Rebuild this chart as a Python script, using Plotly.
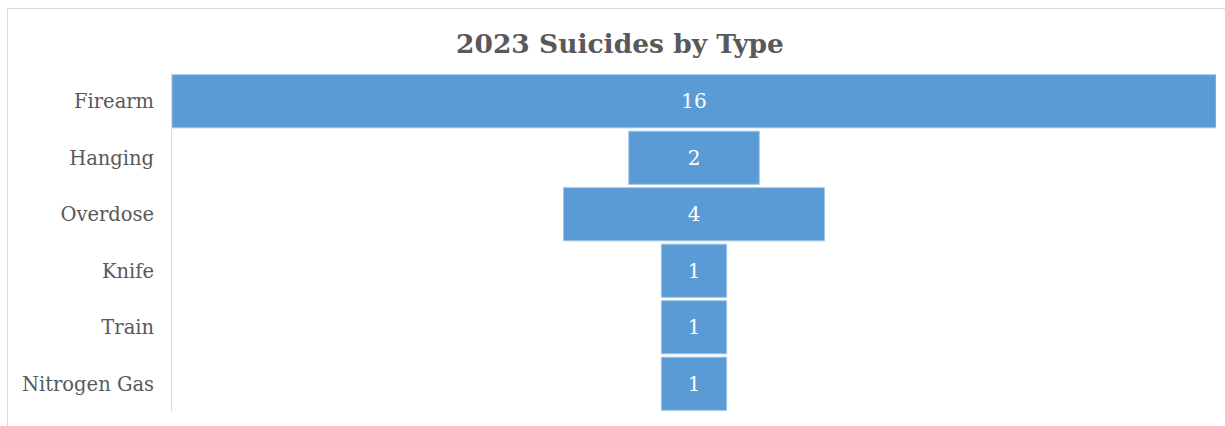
import plotly.graph_objects as go

categories = ["Firearm", "Hanging", "Overdose", "Knife", "Train", "Nitrogen Gas"]
values = [16, 2, 4, 1, 1, 1]
title_text = "2023 Suicides by Type"

L, R, T, B = 172, 9, 73, 14
W, H = 1225, 426
pw = W - L - R
ph = H - T - B

fig = go.Figure(go.Funnel(
    y=categories,
    x=values,
    text=[str(v) for v in values],
    textinfo="text",
    textposition="inside",
    insidetextfont=dict(color="white", size=20, family="DejaVu Serif"),
    marker=dict(color="#5B9BD5", line=dict(color="#9DC3E6", width=1)),
    connector=dict(visible=False),
    hoverinfo="x+y",
))

fig.update_layout(
    width=W, height=H,
    margin=dict(l=L, r=R, t=T, b=B),
    paper_bgcolor="white", plot_bgcolor="white",
    title=dict(text="<b>" + title_text + "</b>", x=620 / W, xanchor="center",
               y=1 - 44 / H, yanchor="middle",
               font=dict(family="DejaVu Serif", size=26.5, color="#595959")),
    funnelgap=0.06,
    showlegend=False,
    xaxis=dict(visible=False, range=[-max(values) / 2, max(values) / 2]),
    yaxis=dict(showline=True, linecolor="#D9D9D9", linewidth=1, ticks="",
               tickfont=dict(family="DejaVu Serif", size=19.5, color="#595959"),
               ticklabelstandoff=13),
    shapes=[dict(type="rect", xref="paper", yref="paper",
                 x0=(7.5 - L) / pw, x1=(W + 5 - L) / pw,
                 y0=-(B + 5) / ph, y1=1 + (T - 8.5) / ph,
                 line=dict(color="#D9D9D9", width=1), fillcolor="rgba(0,0,0,0)", layer="below")],
)

fig.write_html("out.html", config={"displayModeBar": False},
               post_script="document.body.style.margin='0';document.body.style.overflow='hidden';")
